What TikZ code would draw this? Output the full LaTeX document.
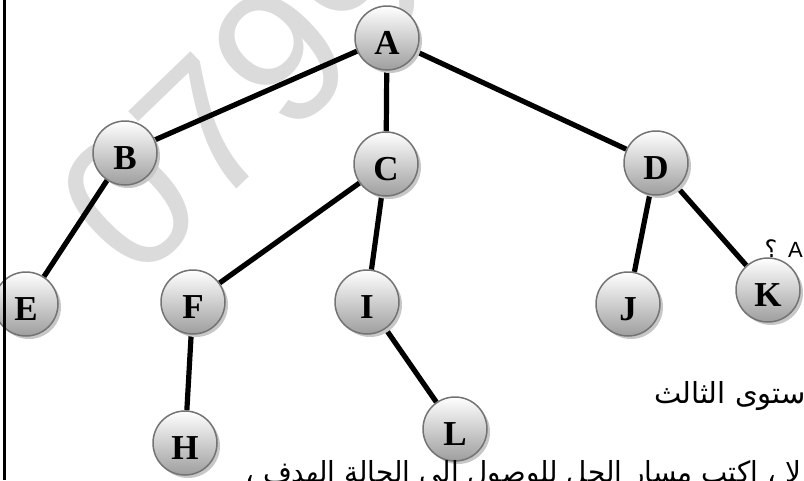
\documentclass[tikz,border=0pt]{standalone}
\usepackage{fontspec}
\setmainfont{Liberation Serif}
\newfontfamily\arabicfont[Script=Arabic]{DejaVu Sans}
\newfontfamily\wmfont{Liberation Sans}
\TeXXeTstate=1
\usetikzlibrary{shadows}
\pgfdeclarelayer{bg}
\pgfsetlayers{bg,main}
\begin{document}
\begin{tikzpicture}[x=1pt,y=-1pt,
  treenode/.style={circle, minimum size=64pt, inner sep=0pt, draw=black!55,
    line width=1.5pt, top color=white, bottom color=black!38,
    drop shadow={shadow xshift=3pt, shadow yshift=-3pt, fill=black!22, opacity=1},
    font=\fontsize{35}{35}\selectfont\bfseries, text height=32pt, text depth=0pt},
  edge/.style={line width=5.2pt, black},
  arab/.style={font=\arabicfont, inner sep=0pt},
  wmark/.style={font=\wmfont\fontsize{190}{190}\selectfont, text=black!14, inner sep=0pt}]
\useasboundingbox (0,0) rectangle (804,480);
\clip (0,0) rectangle (804,480);
\begin{pgfonlayer}{bg}
  \node[wmark, rotate=44, anchor=base west] (wm) at (136,286) {0799};
\end{pgfonlayer}
\node[treenode] (A) at (387,38) {A};
\node[treenode] (B) at (125,153) {B};
\node[treenode] (C) at (386,164) {C};
\node[treenode] (D) at (656,163) {D};
\node[treenode] (E) at (26,304) {E};
\node[treenode] (F) at (193,302) {F};
\node[treenode] (I) at (367,302) {I};
\node[treenode] (J) at (628,304) {J};
\node[treenode] (K) at (768,290) {K};
\node[treenode] (H) at (185,443) {H};
\node[treenode] (L) at (455,429) {L};
\begin{pgfonlayer}{bg}
  \draw[edge] (A) -- (B);
  \draw[edge] (A) -- (C);
  \draw[edge] (A) -- (D);
  \draw[edge] (B) -- (E);
  \draw[edge] (C) -- (F);
  \draw[edge] (C) -- (I);
  \draw[edge] (D) -- (J);
  \draw[edge] (D) -- (K);
  \draw[edge] (F) -- (H);
  \draw[edge] (I) -- (L);
\end{pgfonlayer}
\node[arab, anchor=base, font=\arabicfont\fontsize{24}{24}\selectfont] (q) at (771,257) {\beginR ؟\endR};
\node[font=\wmfont\fontsize{22}{22}\selectfont, inner sep=0pt, anchor=base west] (qa) at (788,257) {A};
\node[arab, anchor=base east, font=\arabicfont\fontsize{29}{29}\selectfont] (lvl) at (806,403) {\beginR ستوى الثالث\endR};
\node[arab, anchor=base east, font=\arabicfont\fontsize{29}{29}\selectfont] (task) at (801,482) {\scalebox{0.96}[1]{\beginR لا ، اكتب مسار الحل للوصول الى الحالة الهدف ،\endR}};
\coordinate (bt) at (4.5,0);
\coordinate (bb) at (4.5,480);
\draw[line width=3.5pt] (bt) -- (bb);
\end{tikzpicture}
\end{document}
